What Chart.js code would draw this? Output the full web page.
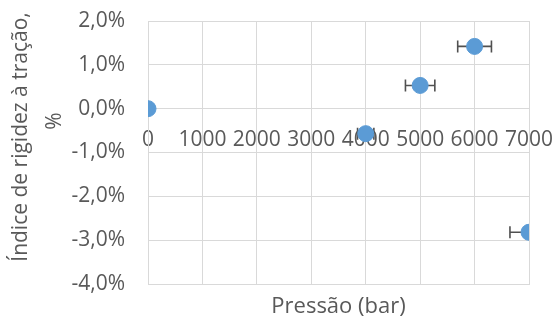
<!DOCTYPE html>
<html>
<head>
<meta charset="utf-8">
<script src="https://cdn.jsdelivr.net/npm/chart.js@4"></script>
<style>
  html, body { margin: 0; padding: 0; background: #fff; }
  #wrap { width: 556px; height: 322px; }
</style>
</head>
<body>
<div id="wrap"><canvas id="chart"></canvas></div>
<script>
// data
const pressure = [0, 4000, 5000, 6000, 7000];
const stiffness = [0.0, -0.57, 0.53, 1.42, -2.82]; // %
const pressureErr = [0, 150, 270, 310, 350];
const xTicks = [0, 1000, 2000, 3000, 4000, 5000, 6000, 7000];
const yTitle = ["Índice de rigidez à tração,", "%"];
const xTitle = "Pressão (bar)";

const GRID = "#d9d9d9";
const TEXT = "#595959";
const FONT = "'Open Sans', sans-serif";

// horizontal error bars, drawn under the points
const errorBars = {
  id: "errorBars",
  beforeDatasetsDraw(chart) {
    const { ctx, chartArea, scales } = chart;
    const x = scales.x, y = scales.y;
    ctx.save();
    ctx.beginPath();
    ctx.rect(chartArea.left, chartArea.top, chartArea.right - chartArea.left, chartArea.bottom - chartArea.top);
    ctx.clip();
    ctx.strokeStyle = "#505050";
    ctx.lineWidth = 1.6;
    pressure.forEach((p, i) => {
      const e = pressureErr[i];
      if (!e) return;
      const py = y.getPixelForValue(stiffness[i]);
      const x0 = x.getPixelForValue(p - e);
      const x1 = x.getPixelForValue(p + e);
      ctx.beginPath();
      ctx.moveTo(x0, py); ctx.lineTo(x1, py);
      ctx.moveTo(x0, py - 6); ctx.lineTo(x0, py + 6);
      ctx.moveTo(x1, py - 6); ctx.lineTo(x1, py + 6);
      ctx.stroke();
    });
    ctx.restore();
  }
};

// y axis title, two rotated lines placed like the original
const yAxisTitle = {
  id: "yAxisTitle",
  afterDraw(chart) {
    const ctx = chart.ctx;
    ctx.save();
    ctx.fillStyle = TEXT;
    ctx.font = "21px " + FONT;
    ctx.textAlign = "center";
    ctx.textBaseline = "middle";
    const pos = [[21, 137], [55, 121]];
    yTitle.forEach((t, i) => {
      ctx.save();
      ctx.translate(pos[i][0], pos[i][1]);
      ctx.rotate(-Math.PI / 2);
      ctx.fillText(t, 0, 0);
      ctx.restore();
    });
    ctx.restore();
  }
};

const fmtPct = (v) => v.toFixed(1).replace(".", ",") + "%";
const noPad = (s) => { s.paddingTop = 0; s.paddingBottom = 0; s.paddingLeft = 0; s.paddingRight = 0; };

new Chart(document.getElementById("chart"), {
  type: "scatter",
  data: {
    datasets: [{
      data: pressure.map((p, i) => ({ x: p, y: stiffness[i] })),
      backgroundColor: "#5b9bd5",
      borderColor: "#5b9bd5",
      pointRadius: 8,
      pointHoverRadius: 8,
    }],
  },
  options: {
    responsive: true,
    maintainAspectRatio: false,
    animation: false,
    layout: { padding: { top: 21, right: 27, left: 0, bottom: 0 } },
    plugins: { legend: { display: false }, tooltip: { enabled: false } },
    scales: {
      x: {
        type: "linear",
        position: "bottom",
        min: 0,
        max: 7000,
        afterBuildTicks: (s) => { s.ticks = xTicks.map((v) => ({ value: v })); },
        ticks: { display: false },
        grid: { color: GRID, lineWidth: 1, drawTicks: false },
        border: { color: GRID },
        title: {
          display: true,
          text: xTitle,
          color: TEXT,
          font: { family: FONT, size: 22 },
          padding: { top: 0, bottom: 2 },
        },
        afterFit: (s) => { s.height = 38; noPad(s); },
      },
      xl: {
        type: "linear",
        position: { y: 0 },
        min: 0,
        max: 7000,
        z: 1,
        afterBuildTicks: (s) => { s.ticks = xTicks.map((v) => ({ value: v })); },
        ticks: { color: TEXT, font: { family: FONT, size: 21 }, padding: 19, maxRotation: 0, autoSkip: false, callback: (v) => String(v) },
        grid: { display: false, drawTicks: false },
        border: { display: false },
        afterFit: noPad,
      },
      y: {
        min: -4,
        max: 2,
        ticks: { stepSize: 1, color: TEXT, font: { family: FONT, size: 21 }, padding: 23, callback: fmtPct },
        grid: { color: GRID, lineWidth: 1, drawTicks: false },
        border: { color: GRID },
        afterFit: (s) => { s.width = 148; noPad(s); },
      },
    },
  },
  plugins: [errorBars, yAxisTitle],
});
</script>
</body>
</html>
